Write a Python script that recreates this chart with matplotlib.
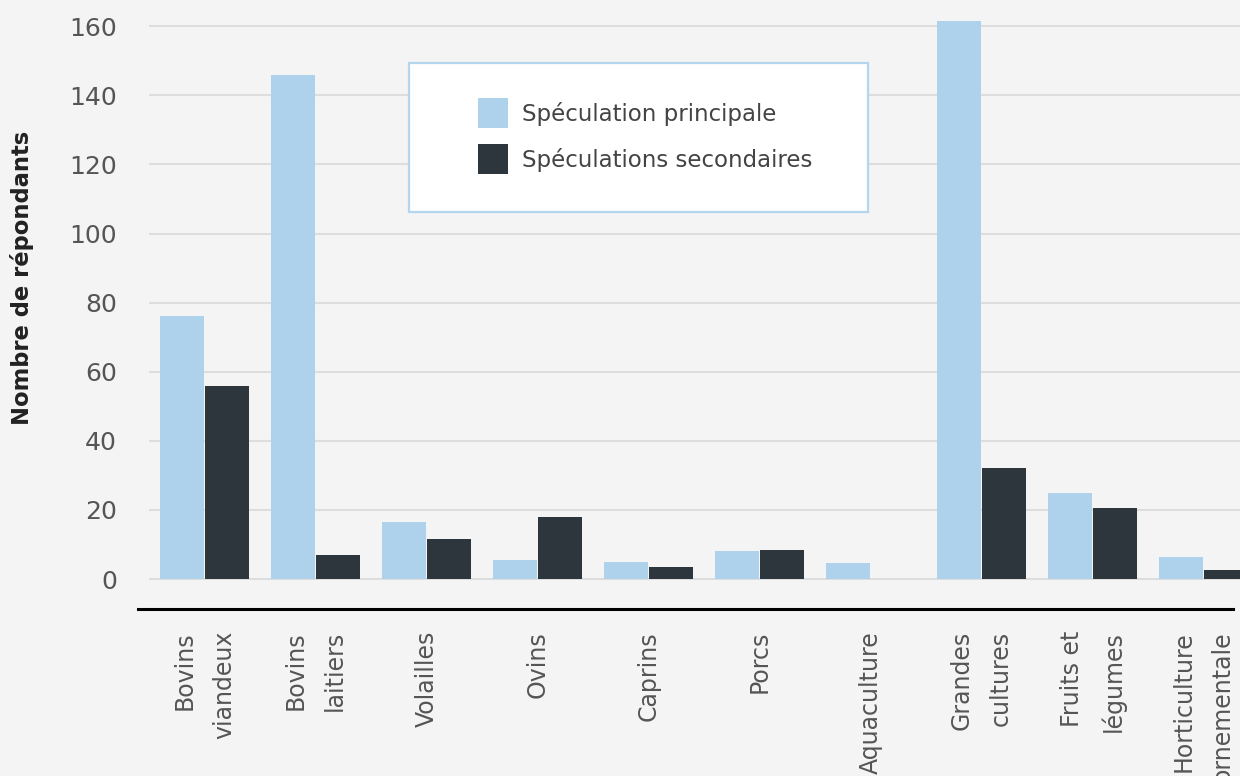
import numpy as np
import matplotlib.pyplot as plt
from matplotlib.patches import Rectangle
from matplotlib.lines import Line2D

categories = ["Bovins\nviandeux", "Bovins\nlaitiers", "Volailles", "Ovins", "Caprins",
              "Porcs", "Aquaculture", "Grandes\ncultures", "Fruits et\nlégumes",
              "Horticulture\nornementale"]
principale = [76, 146, 16.5, 5.5, 5, 8, 4.5, 161.5, 25, 6.5]
secondaires = [56, 7, 11.5, 18, 3.5, 8.5, 0, 32, 20.5, 2.5]
labels = ["Spéculation principale", "Spéculations secondaires"]

bg = '#f4f4f4'
light = '#aed1ec'
dark = '#2d353d'
grey = '#555555'

W, H = 1240, 776
fig = plt.figure(figsize=(W / 100, H / 100), dpi=100, facecolor=bg)
plt.rcParams['font.family'] = ['DejaVu Sans']

# axes placed in pixels, the right side runs off the figure like the original
left, top, bottom = 149, 0, 589.4
ax = fig.add_axes([left / W, 1 - bottom / H, (W - left) / W * 1.02, (bottom - top) / H])
ax.set_facecolor(bg)

x = np.arange(len(categories))
ax.bar(x - 0.2, principale, width=0.395, color=light, zorder=3)
ax.bar(x + 0.2, secondaires, width=0.395, color=dark, zorder=3)

ax.set_xlim(-0.5, -0.5 + (W - left) / 111 * 1.02)
ax.set_ylim(-3, 167.6)
ax.set_yticks(np.arange(0, 161, 20))
ax.yaxis.grid(True, color='#dddddd', linewidth=1.5, zorder=0)
ax.set_axisbelow(True)
for s in ax.spines.values():
    s.set_visible(False)

ax.tick_params(axis='y', length=0, pad=23, labelsize=18, labelcolor=grey)
ax.tick_params(axis='x', length=0, pad=30, labelsize=17, labelcolor=grey)
ax.set_xticks(x)
ax.set_xticklabels(categories, rotation=90, multialignment='right', linespacing=1.8)

# black rule under the bars
fig.add_artist(Line2D([138 / W, 1233 / W], [1 - 609 / H, 1 - 609 / H],
                      color='black', linewidth=2.2))

fig.text(22 / W, 1 - 278 / H, "Nombre de répondants", rotation=90, ha='center',
         va='center', fontsize=16.3, fontweight='bold', color='#222222')

# legend box
fig.add_artist(Rectangle((409 / W, 1 - 212 / H), (868 - 409) / W, (212 - 63) / H,
                         transform=fig.transFigure, facecolor='white',
                         edgecolor='#b3d5ee', linewidth=1.6, zorder=5))
handles = [Line2D([], [], linestyle='none', marker='s', markersize=22.3,
                  markeredgewidth=0, color=c) for c in (light, dark)]
leg = fig.legend(handles=handles, labels=labels, loc='upper left',
                 bbox_to_anchor=(478 / W, 1 - 102.5 / H), frameon=False, fontsize=16.5,
                 borderpad=0, borderaxespad=0, handlelength=1.35,
                 labelspacing=0.92, handletextpad=0.57)
leg.set_zorder(6)
for t in leg.get_texts():
    t.set_color('#444444')

fig.savefig('out.png', dpi=100, facecolor=bg)
